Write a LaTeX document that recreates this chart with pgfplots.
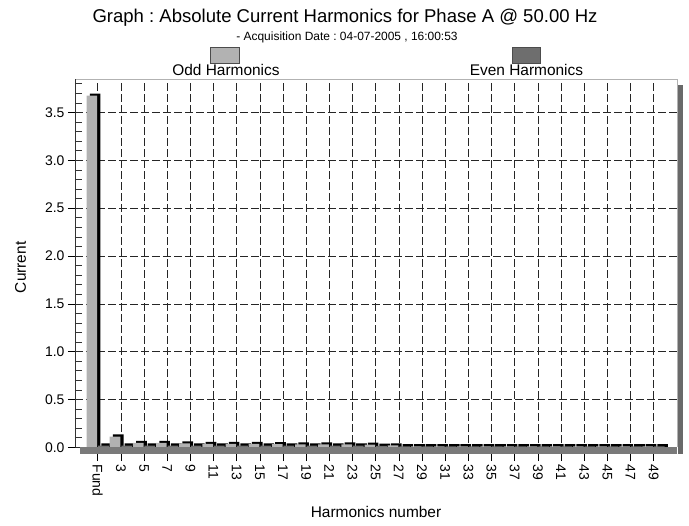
\documentclass[border=0pt]{standalone}
\usepackage{fontspec}
\setmainfont{Liberation Sans}
\usepackage{pgfplots}
\pgfplotsset{compat=1.18}
\usepackage{pgfplotstable}
\definecolor{oddgray}{RGB}{178,178,178}
\definecolor{evengray}{RGB}{110,110,110}
\definecolor{floorgray}{RGB}{122,122,122}
\definecolor{shadowgray}{RGB}{105,105,105}
\frenchspacing

% harmonic number, current (A)
\pgfplotstableread{
h v
1 3.675
3 0.112
5 0.046
7 0.046
9 0.040
11 0.036
13 0.035
15 0.035
17 0.032
19 0.030
21 0.030
23 0.030
25 0.028
27 0.020
29 0.010
31 0.010
33 0.010
35 0.010
37 0.010
39 0.010
41 0.010
43 0.010
45 0.010
47 0.010
49 0.010
}\oddtab

\pgfplotstableread{
h v
2 0.018
4 0.018
6 0.018
8 0.018
10 0.018
12 0.018
14 0.018
16 0.018
18 0.018
20 0.018
22 0.018
24 0.018
26 0.016
28 0.010
30 0.010
32 0.010
34 0.010
36 0.010
38 0.010
40 0.010
42 0.010
44 0.010
46 0.010
48 0.010
50 0.010
}\eventab

\begin{document}
\begin{tikzpicture}
\useasboundingbox (-75bp,-72bp) rectangle (614bp,454bp);
\begin{axis}[
    at={(0,0)}, anchor=south west,
    scale only axis, width=602bp, height=375bp,
    xmin=-0.96, xmax=51.02, ymin=-0.07, ymax=3.85,
    axis line style={draw=none},
    xtick={1,3,...,49},
    xticklabels={Fund,3,5,7,9,11,13,15,17,19,21,23,25,27,29,31,33,35,37,39,41,43,45,47,49},
    xticklabel style={rotate=-90, anchor=west},
    ytick={0,0.5,...,3.5},
    minor ytick={0.1,0.2,0.3,0.4,0.6,0.7,0.8,0.9,1.1,1.2,1.3,1.4,1.6,1.7,1.8,1.9,2.1,2.2,2.3,2.4,2.6,2.7,2.8,2.9,3.1,3.2,3.3,3.4,3.6,3.7,3.8},
    yticklabel style={/pgf/number format/.cd, fixed, fixed zerofill, precision=1},
    /pgf/number format/assume math mode=true,
    ticklabel style={font=\fontsize{14}{14}\selectfont},
    xtick pos=bottom, ytick pos=left,
    tick align=outside,
    major tick length=7bp, minor tick length=7bp,
    tick style={black, line width=0.6bp},
    minor tick style={xshift=7bp, black!80, line width=0.6bp},
    grid=major,
    major grid style={black!85, line width=0.6bp, dash pattern=on 8bp off 3bp},
    xlabel={Harmonics number},
    xlabel style={at={(axis description cs:0.5,-0.168)}, anchor=base, font=\fontsize{15.5}{17}\selectfont},
    ylabel={Current},
    ylabel style={at={(axis description cs:-0.0905,0.4976)}, anchor=center, font=\fontsize{15.5}{17}\selectfont},
]
% 3D shadow of the bars
\addplot[ybar, bar width=0.92, bar shift=0pt, fill=black, draw=none]
    table[x expr=\thisrow{h}-0.22, y expr=\thisrow{v}+0.022] {\oddtab};
\addplot[ybar, bar width=0.92, bar shift=0pt, fill=black, draw=none]
    table[x expr=\thisrow{h}-0.22, y expr=\thisrow{v}+0.022] {\eventab};
% bar faces
\addplot[ybar, bar width=0.92, bar shift=0pt, fill=oddgray, draw=none]
    table[x expr=\thisrow{h}-0.5, y=v] {\oddtab};
\addplot[ybar, bar width=0.92, bar shift=0pt, fill=evengray, draw=none]
    table[x expr=\thisrow{h}-0.5, y=v] {\eventab};
\end{axis}

% floor, frame and shadow
\fill[floorgray] (5bp,0) rectangle (602bp,7bp);
\draw[black!30, line width=0.8bp] (0,375bp) -- (602bp,375bp) -- (602bp,7bp);
\fill[shadowgray] (602.5bp,0) rectangle (608bp,369bp);
\draw[black!80, line width=0.8bp] (0,7bp) -- (0,375bp);

% title
\node[anchor=base, font=\fontsize{18.6}{20}\selectfont] at (270bp,431bp)
    {Graph : Absolute Current Harmonics for Phase A @ 50.00 Hz};
\node[anchor=base, font=\fontsize{12}{14}\selectfont] at (272bp,413bp)
    {- Acquisition Date : 04-07-2005 , 16:00:53};

% legend
\filldraw[fill=oddgray, draw=black!70, line width=0.6bp] (135bp,391bp) rectangle (164bp,407bp);
\filldraw[fill=evengray, draw=black!70, line width=0.6bp] (437.7bp,391bp) rectangle (465bp,407bp);
\node[anchor=base, font=\fontsize{15.5}{17}\selectfont] at (151bp,378bp) {Odd Harmonics};
\node[anchor=base, font=\fontsize{15.5}{17}\selectfont] at (451.5bp,378bp) {Even Harmonics};
\end{tikzpicture}
\end{document}
